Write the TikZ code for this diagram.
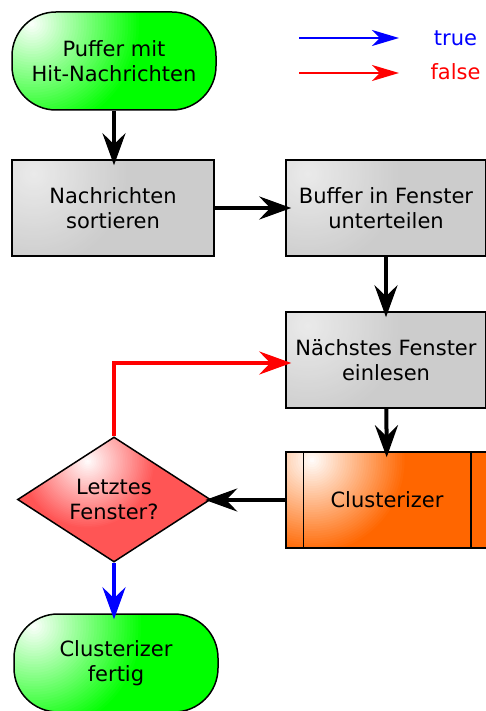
\documentclass[tikz,border=0pt]{standalone}
\usepackage{fontspec}
\setmainfont{DejaVu Sans}
\usetikzlibrary{arrows.meta,shapes.geometric}
\definecolor{termgreen}{HTML}{00FF00}
\definecolor{procgray}{HTML}{CCCCCC}
\definecolor{clusorange}{HTML}{FF6600}
\definecolor{decred}{HTML}{FF5555}
\begin{document}
\begin{tikzpicture}[x=1pt,y=-1pt,
  every node/.style={font=\fontsize{21}{25}\selectfont, align=center},
  glow/.style n args={5}{path picture={
      \foreach \i [evaluate=\i as \p using {100*(1-\i/40)}, evaluate=\i as \r using {#5*\i/40}] in {40,39,...,1}
        {\fill[#1!\p!#2] ([xshift=#3,yshift=#4]path picture bounding box.north west) circle (\r pt);}
    }},
  term/.style={draw=black, line width=1.5pt, fill=termgreen, rounded corners=44pt,
    minimum width=204pt, minimum height=98pt, inner sep=0pt,
    glow={white}{termgreen}{20pt}{-12pt}{110}},
  proc/.style={draw=black, line width=1.5pt, fill=procgray, minimum width=#1, minimum height=96pt, inner sep=0pt,
    glow={white!92!black}{procgray}{22pt}{-14pt}{95}},
  proc/.default=200pt,
  clusbox/.style={draw=black, line width=1.5pt, fill=clusorange, minimum width=202pt, minimum height=96pt, inner sep=0pt,
    glow={white}{clusorange}{26pt}{-8pt}{95}},
  decision/.style={diamond, aspect=1.55, draw=black, line width=1.5pt, fill=decred, minimum width=193pt, minimum height=125pt, inner sep=0pt,
    glow={white}{decred}{70pt}{-24pt}{68}},
  conn/.style={line width=4pt, shorten >=-6pt, -{Stealth[length=32pt,width=23pt,inset=11pt]}},
  legendarrow/.style={line width=2pt, -{Stealth[length=27pt,width=16pt,inset=8pt]}}
]
\useasboundingbox (0,0) rectangle (485,711);

% legend
\coordinate (tA) at (299,38);
\coordinate (tB) at (399,38);
\coordinate (fA) at (299,73);
\coordinate (fB) at (399,73);
\draw[legendarrow, blue] (tA) -- (tB);
\draw[legendarrow, red] (fA) -- (fB);
\node[text=blue] (truelbl) at (455.5,38) {true};
\node[text=red] (falselbl) at (455.5,71.5) {false};

% nodes
\node[term] (start) at (114,61) {Puffer mit\\Hit-Nachrichten};
\node[proc=202pt] (sort) at (113,208) {Nachrichten\\sortieren};
\node[proc] (split) at (386,208) {Buffer in Fenster\\unterteilen};
\node[proc] (next) at (386,360) {Nächstes Fenster\\einlesen};
\node[clusbox] (clus) at (387,500) {Clusterizer};
\draw[line width=1.5pt] ([xshift=18pt]clus.north west) -- ([xshift=18pt]clus.south west);
\draw[line width=1.5pt] ([xshift=-18pt]clus.north east) -- ([xshift=-18pt]clus.south east);
\node[decision] (dia) at (114,499.5) {Letztes\\Fenster?};
\node[term] (done) at (116,663) {Clusterizer\\fertig};

% connectors
\draw[conn] (start.south) -- (start.south |- sort.north);
\draw[conn] (sort) -- (split);
\draw[conn] (split) -- (next);
\draw[conn] (next) -- (clus);
\draw[conn] (clus.west) -- (clus.west -| dia.east);
\draw[conn, red] (dia.north) |- ([yshift=-3pt]next.west);
\draw[conn, blue] (dia.south) -- (dia.south |- done.north);
\end{tikzpicture}
\end{document}
